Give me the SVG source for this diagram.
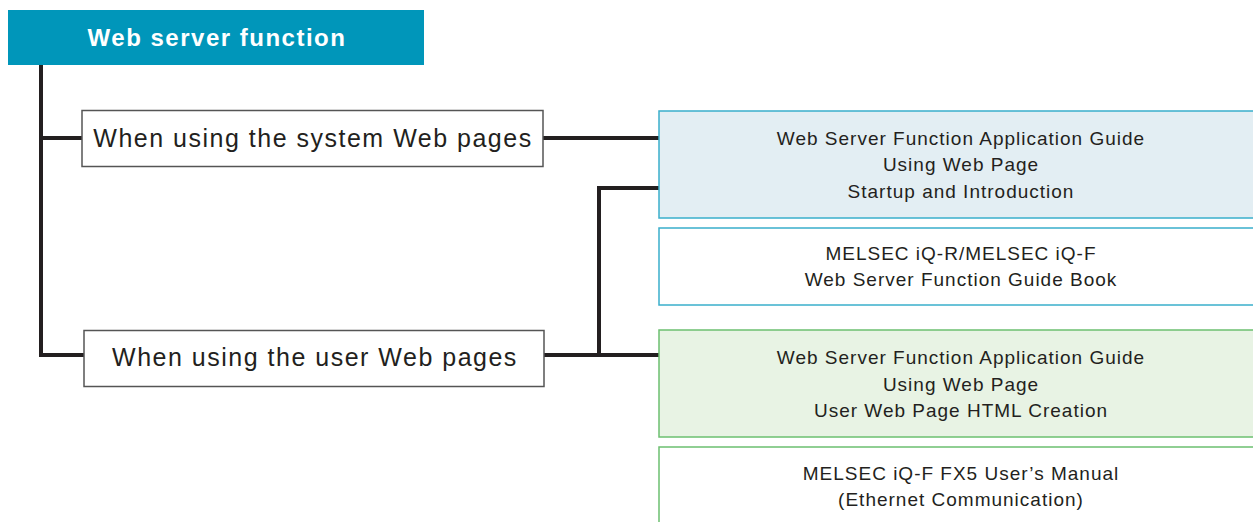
<svg xmlns="http://www.w3.org/2000/svg" width="1253" height="522" viewBox="0 0 1253 522">
<style>
.t{font-family:"Liberation Sans",Arial,sans-serif;fill:#231f20;text-anchor:middle}
.h{font-size:24px;font-weight:bold;fill:#ffffff;letter-spacing:1.5px}
.c{font-size:25px;letter-spacing:1.5px}
.d{font-size:19px;letter-spacing:1px}
.w{fill:#ffffff;stroke:#555555;stroke-width:1.5}
.b{fill:#e3eef3;stroke:#3aafcb;stroke-width:1.5}
.bw{fill:#ffffff;stroke:#3aafcb;stroke-width:1.5}
.g{fill:#e8f3e4;stroke:#6cc070;stroke-width:1.5}
.gw{fill:#ffffff;stroke:#6cc070;stroke-width:1.5}
.ln{fill:none;stroke:#231f20;stroke-width:4}
</style>
<g id="connectors">
<polyline class="ln" points="41,65 41,355 84,355"/>
<line class="ln" x1="41" y1="138" x2="82" y2="138"/>
<line class="ln" x1="543" y1="138" x2="659" y2="138"/>
<line class="ln" x1="544" y1="355" x2="659" y2="355"/>
<polyline class="ln" points="599,355 599,188 659,188"/>
</g>
<g id="root">
<rect x="8" y="10" width="416" height="55" fill="#0096ba"/>
<text class="t h" x="217" y="46">Web server function</text>
</g>
<g id="system">
<rect class="w" x="82" y="110.5" width="461" height="56"/>
<text class="t c" x="313" y="147">When using the system Web pages</text>
</g>
<g id="user">
<rect class="w" x="84" y="330.5" width="460" height="56"/>
<text class="t c" x="315" y="366">When using the user Web pages</text>
</g>
<g id="doc1">
<rect class="b" x="659" y="111" width="600" height="107"/>
<text class="t d" x="961" y="145">Web Server Function Application Guide</text>
<text class="t d" x="961" y="171">Using Web Page</text>
<text class="t d" x="961" y="198">Startup and Introduction</text>
</g>
<g id="doc2">
<rect class="bw" x="659" y="228" width="600" height="77"/>
<text class="t d" x="961" y="260">MELSEC iQ-R/MELSEC iQ-F</text>
<text class="t d" x="961" y="286">Web Server Function Guide Book</text>
</g>
<g id="doc3">
<rect class="g" x="659" y="330" width="600" height="107"/>
<text class="t d" x="961" y="364">Web Server Function Application Guide</text>
<text class="t d" x="961" y="391">Using Web Page</text>
<text class="t d" x="961" y="417">User Web Page HTML Creation</text>
</g>
<g id="doc4">
<rect class="gw" x="659" y="447" width="600" height="90"/>
<text class="t d" x="961" y="480">MELSEC iQ-F FX5 User’s Manual</text>
<text class="t d" x="961" y="506">(Ethernet Communication)</text>
</g>
</svg>
